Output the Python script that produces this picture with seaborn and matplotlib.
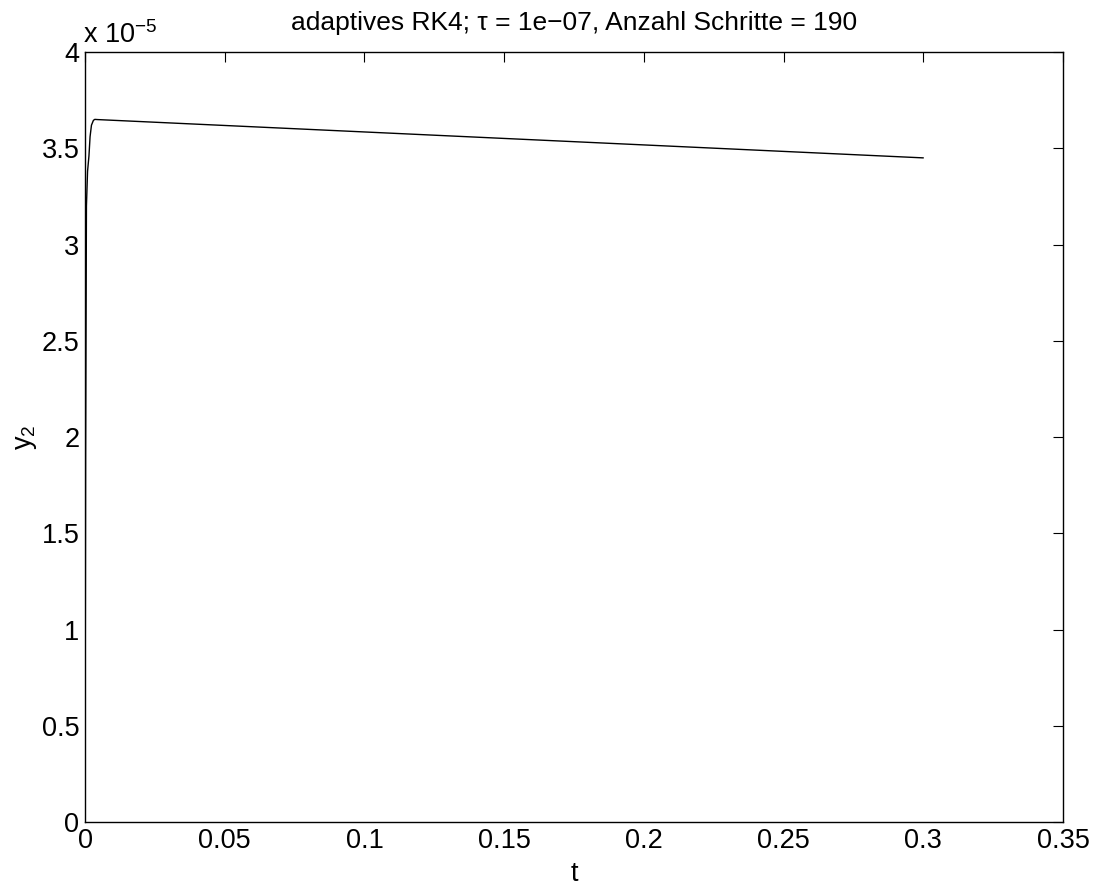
import numpy as np
import pandas as pd
import seaborn as sns
import matplotlib.pyplot as plt
from matplotlib.ticker import FuncFormatter

# values (y in units of 1e-5)
t = [0.0, 0.0001, 0.0002, 0.0005, 0.0009, 0.0014, 0.0018, 0.0023, 0.0030, 0.0035, 0.0045, 0.3]
y2 = [0.0, 1.0, 1.9, 3.2, 3.38, 3.46, 3.56, 3.62, 3.645, 3.65, 3.649, 3.45]

xticks = [0, 0.05, 0.1, 0.15, 0.2, 0.25, 0.3, 0.35]
yticks = [0, 0.5, 1, 1.5, 2, 2.5, 3, 3.5, 4]

df = pd.DataFrame({"t": t, "y2": y2})

sns.set_style("white")
plt.rcParams["font.family"] = ["Liberation Sans", "DejaVu Sans"]
plt.rcParams["mathtext.default"] = "regular"
plt.rcParams["text.color"] = "black"
plt.rcParams["axes.labelcolor"] = "black"

fs = 19.5
fig = plt.figure(figsize=(10.93, 8.86), dpi=100)
ax = fig.add_axes([0.0778, 0.0722, 0.8948, 0.8691])

sns.lineplot(data=df, x="t", y="y2", color="black", linewidth=1.0, ax=ax)

ax.set_xlim(0, 0.35)
ax.set_ylim(0, 4)
ax.set_xticks(xticks)
ax.set_yticks(yticks)
ax.xaxis.set_major_formatter(FuncFormatter(lambda v, p: "%g" % v))
ax.yaxis.set_major_formatter(FuncFormatter(lambda v, p: "%g" % v))
ax.tick_params(direction="in", length=7, width=0.8, labelsize=fs, top=True, right=True,
               colors="black", pad=4)
for s in ax.spines.values():
    s.set_color("black")
    s.set_linewidth(1.0)

ax.set_xlabel("t", fontsize=fs, labelpad=5)
ax.set_ylabel("y$_2$", fontsize=fs, labelpad=2)
ax.set_title("adaptives RK4; τ = 1e−07, Anzahl Schritte = 190", fontsize=19, pad=16,
             color="black")
ax.text(-0.002, 1.004, "x 10$^{−5}$", transform=ax.transAxes, fontsize=fs, ha="left", va="bottom")

fig.savefig("out.png", dpi=100, facecolor="white")
